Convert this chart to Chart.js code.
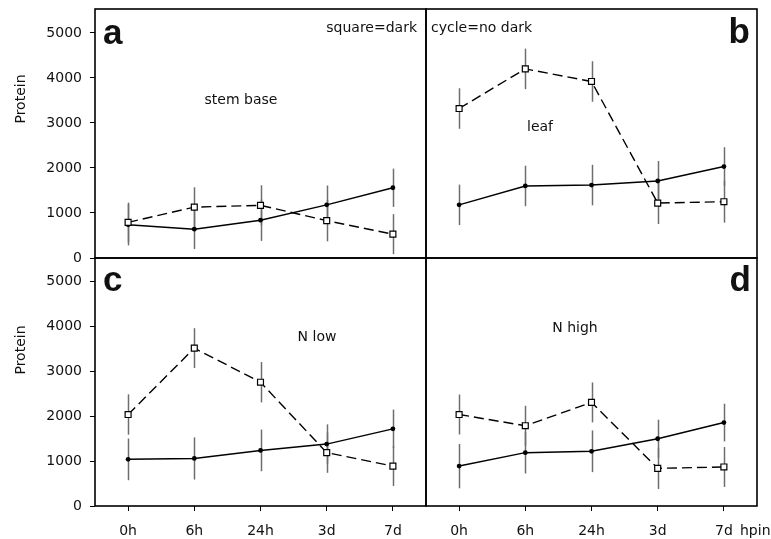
<!DOCTYPE html>
<html>
<head>
<meta charset="utf-8">
<script src="https://cdn.jsdelivr.net/npm/chart.js@4.4.1/dist/chart.umd.min.js"></script>
<style>
  html, body { margin: 0; background: #fff; }
  #wrap { position: relative; width: 771px; height: 539px; overflow: hidden; }
  #wrap canvas { position: absolute; left: 0; top: -30px; }
</style>
</head>
<body>
<div id="wrap">
  <canvas id="pa" width="771" height="600"></canvas>
  <canvas id="pb" width="771" height="600"></canvas>
  <canvas id="pc" width="771" height="600"></canvas>
  <canvas id="pd" width="771" height="600"></canvas>
</div>
<script>
// 시점(hpin)과 y 눈금
const hours = ['0h', '6h', '24h', '3d', '7d'];
const yTicks = [0, 1000, 2000, 3000, 4000, 5000];

// a: stem base
const stemDark = [790, 1130, 1170, 830, 530];
const stemDarkErr = [440, 440, 445, 460, 445];
const stemLight = [740, 640, 840, 1180, 1560];
const stemLightErr = [460, 440, 460, 430, 425];

// b: leaf
const leafDark = [3320, 4200, 3920, 1220, 1250];
const leafDarkErr = [450, 450, 450, 465, 465];
const leafLight = [1180, 1600, 1620, 1710, 2030];
const leafLightErr = [450, 450, 450, 445, 430];

// c: N low
const nLowDark = [2040, 3520, 2760, 1190, 890];
const nLowDarkErr = [450, 445, 450, 450, 445];
const nLowLight = [1040, 1060, 1240, 1380, 1720];
const nLowLightErr = [465, 470, 465, 440, 430];

// d: N high
const nHighDark = [2040, 1790, 2310, 840, 870];
const nHighDarkErr = [445, 445, 445, 460, 445];
const nHighLight = [890, 1190, 1220, 1500, 1860];
const nHighLightErr = [495, 465, 465, 425, 420];

const OFF = 30; // canvas는 top:-30px 에 놓여 있음
Chart.defaults.font.family = 'DejaVu Sans';
Chart.defaults.font.size = 14;
Chart.defaults.color = '#111';

// 오차막대: 선 뒤에 회색 세로선
const errorBars = {
  id: 'errorBars',
  beforeDatasetsDraw(chart) {
    const { ctx, scales: { x, y } } = chart;
    ctx.save();
    ctx.strokeStyle = '#6e6e6e';
    ctx.lineWidth = 1.5;
    chart.data.datasets.forEach((ds) => {
      ds.data.forEach((v, i) => {
        const px = Math.round(x.getPixelForValue(i)) + 0.5;
        ctx.beginPath();
        ctx.moveTo(px, y.getPixelForValue(v - ds.errors[i]));
        ctx.lineTo(px, y.getPixelForValue(v + ds.errors[i]));
        ctx.stroke();
      });
    });
    ctx.restore();
  },
};

// 패널 테두리 + 글자들
const panelDeco = {
  id: 'panelDeco',
  afterDraw(chart, args, opts) {
    const { ctx, chartArea: a } = chart;
    ctx.save();
    ctx.strokeStyle = '#000';
    ctx.lineWidth = 1.6;
    ctx.strokeRect(a.left, a.top, a.right - a.left, a.bottom - a.top);
    ctx.fillStyle = '#111';
    ctx.textBaseline = 'alphabetic';
    (opts.items || []).forEach((t) => {
      ctx.font = t.font || '14px "DejaVu Sans"';
      ctx.textAlign = t.align || 'left';
      if (t.rotate) {
        ctx.save();
        ctx.translate(t.x, t.y + OFF);
        ctx.rotate(-Math.PI / 2);
        ctx.textAlign = 'center';
        ctx.textBaseline = 'middle';
        ctx.fillText(t.text, 0, 0);
        ctx.restore();
      } else {
        ctx.fillText(t.text, t.x, t.y + OFF);
      }
    });
    ctx.restore();
  },
};

const letterFont = 'bold 35px "Liberation Sans"';

function panel(id, dark, darkErr, light, lightErr, cfg) {
  const yScale = {
    min: 0, max: 5530,
    display: cfg.yAxis,
    afterBuildTicks: (s) => { s.ticks = yTicks.map((v) => ({ value: v })); },
    ticks: { padding: 8, callback: (v) => String(v) },
    grid: { drawOnChartArea: false, tickLength: 5, color: '#000' },
    border: { display: false },
  };
  if (cfg.yAxis) yScale.afterFit = (s) => { s.width = 95; };
  const xScale = {
    type: 'category', offset: true,
    display: cfg.xAxis,
    ticks: { padding: 12 },
    grid: { drawOnChartArea: false, tickLength: 5, color: '#000' },
    border: { display: false },
  };
  if (cfg.xAxis) xScale.afterFit = (s) => { s.height = 40; };
  return new Chart(document.getElementById(id), {
    type: 'line',
    data: {
      labels: hours,
      datasets: [
        {
          data: dark, errors: darkErr,
          borderColor: '#000', borderWidth: 1.4, borderDash: [10, 5],
          pointStyle: 'rect', pointRadius: 4.2, pointBackgroundColor: '#fff',
          pointBorderColor: '#000', pointBorderWidth: 1.2,
        },
        {
          data: light, errors: lightErr,
          borderColor: '#000', borderWidth: 1.5,
          pointStyle: 'circle', pointRadius: 2.4, pointBackgroundColor: '#000',
          pointBorderColor: '#000', pointBorderWidth: 0,
        },
      ],
    },
    options: {
      responsive: false, animation: false, devicePixelRatio: 1,
      layout: { padding: cfg.padding },
      plugins: { legend: { display: false }, tooltip: { enabled: false }, panelDeco: { items: cfg.items } },
      scales: { x: xScale, y: yScale },
    },
    plugins: [errorBars, panelDeco],
  });
}

panel('pa', stemDark, stemDarkErr, stemLight, stemLightErr, {
  yAxis: true, xAxis: false,
  padding: { left: 0, right: 345, top: 9 + OFF, bottom: 600 - 258 - OFF },
  items: [
    { text: 'a', font: letterFont, x: 103, y: 44 },
    { text: 'square=dark', x: 417, y: 32, align: 'right' },
    { text: 'stem base', x: 241, y: 104, align: 'center' },
    { text: 'Protein', x: 21, y: 99, rotate: true },
  ],
});

panel('pb', leafDark, leafDarkErr, leafLight, leafLightErr, {
  yAxis: false, xAxis: false,
  padding: { left: 426, right: 14, top: 9 + OFF, bottom: 600 - 258 - OFF },
  items: [
    { text: 'b', font: letterFont, x: 750, y: 43, align: 'right' },
    { text: 'cycle=no dark', x: 431, y: 32 },
    { text: 'leaf', x: 540, y: 131, align: 'center' },
  ],
});

panel('pc', nLowDark, nLowDarkErr, nLowLight, nLowLightErr, {
  yAxis: true, xAxis: true,
  padding: { left: 0, right: 345, top: 258 + OFF, bottom: 600 - 506 - OFF - 40 },
  items: [
    { text: 'c', font: letterFont, x: 103, y: 291 },
    { text: 'N low', x: 317, y: 341, align: 'center' },
    { text: 'Protein', x: 21, y: 350, rotate: true },
  ],
});

panel('pd', nHighDark, nHighDarkErr, nHighLight, nHighLightErr, {
  yAxis: false, xAxis: true,
  padding: { left: 426, right: 14, top: 258 + OFF, bottom: 600 - 506 - OFF - 40 },
  items: [
    { text: 'd', font: letterFont, x: 751, y: 291, align: 'right' },
    { text: 'N high', x: 575, y: 332, align: 'center' },
    { text: 'hpin', x: 740, y: 535 },
  ],
});
</script>
</body>
</html>
